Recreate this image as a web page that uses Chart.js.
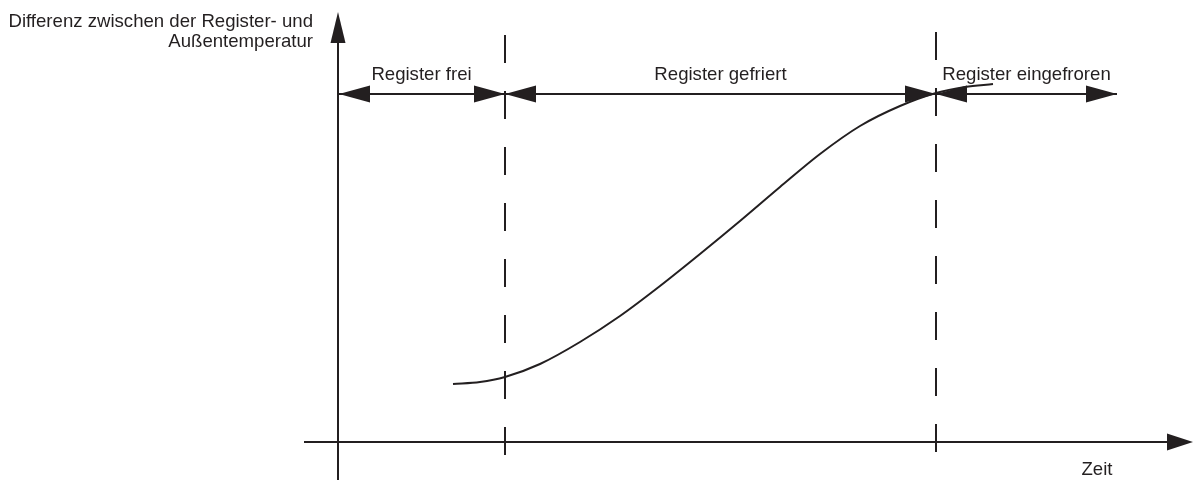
<!DOCTYPE html>
<html>
<head>
<meta charset="utf-8">
<script src="https://cdn.jsdelivr.net/npm/chart.js@4"></script>
<style>
  html, body { margin: 0; padding: 0; background: #ffffff; }
  #wrap { width: 1195px; height: 480px; }
</style>
</head>
<body>
<div id="wrap"><canvas id="c" width="1195" height="480"></canvas></div>
<script>
// ---- data (schematic units: time vs. temperature difference) ----
const curveTime = [11.5, 14.2, 16.7, 20.2, 24.2, 28.2, 32.2, 36.2, 40.2, 44.2, 48.2, 52.2, 56.2, 59.8, 62.7, 65.5];
const curveDiff = [5.8, 6.0, 6.5, 7.8, 10.0, 12.6, 15.6, 18.8, 22.1, 25.5, 28.8, 31.6, 33.6, 34.9, 35.5, 35.8];
const phaseBounds = [16.7, 59.8];
const phaseLabels = ['Register frei', 'Register gefriert', 'Register eingefroren'];
const phaseStart = 0;
const phaseEnd = 77.9;
const phaseLevel = 34.8;
const timeRange = [-3.4, 85.5];
const diffRange = [-3.8, 43.0];
const dashRange1 = [-1.3, 41.4];
const dashRange2 = [-1.0, 41.7];
const yTitleLines = ['Differenz zwischen der Register- und', 'Außentemperatur'];
const xTitle = 'Zeit';

const INK = '#231f20';
const FONT = '18.6px "Liberation Sans", Arial, Helvetica, sans-serif';

const curveData = curveTime.map((t, i) => ({ x: t, y: curveDiff[i] }));
const phaseEdges = [phaseStart, ...phaseBounds, phaseEnd];

const datasets = [];
// curve
datasets.push({ data: curveData, borderColor: INK, borderWidth: 2, cubicInterpolationMode: 'monotone', pointRadius: 0, clip: false });
// axes
datasets.push({ data: [{ x: timeRange[0], y: 0 }, { x: timeRange[1] - 2, y: 0 }], borderColor: INK, borderWidth: 2, pointRadius: 0, clip: false });
datasets.push({ data: [{ x: 0, y: diffRange[0] }, { x: 0, y: diffRange[1] - 2 }], borderColor: INK, borderWidth: 2, pointRadius: 0, clip: false });
// dashed phase boundaries
[dashRange1, dashRange2].forEach((r, i) => {
  datasets.push({ data: [{ x: phaseBounds[i], y: r[0] }, { x: phaseBounds[i], y: r[1] }], borderColor: INK, borderWidth: 2, borderDash: [28, 28], pointRadius: 0, clip: false });
});
// phase arrows
for (let i = 0; i < phaseLabels.length; i++) {
  datasets.push({ data: [{ x: phaseEdges[i], y: phaseLevel }, { x: phaseEdges[i + 1], y: phaseLevel }], borderColor: INK, borderWidth: 2, pointRadius: 0, clip: false });
}

function head(ctx, tx, ty, dx, dy, len, half) {
  const bx = tx - dx * len, by = ty - dy * len;
  const px = -dy, py = dx;
  ctx.beginPath();
  ctx.moveTo(tx, ty);
  ctx.lineTo(bx + px * half, by + py * half);
  ctx.lineTo(bx - px * half, by - py * half);
  ctx.closePath();
  ctx.fill();
}

const decor = {
  id: 'decor',
  afterDatasetsDraw(chart) {
    const ctx = chart.ctx;
    const xs = chart.scales.x, ys = chart.scales.y;
    ctx.save();
    ctx.fillStyle = INK;
    // axis arrowheads
    head(ctx, xs.getPixelForValue(timeRange[1]), ys.getPixelForValue(0), 1, 0, 26, 8.5);
    head(ctx, xs.getPixelForValue(0), ys.getPixelForValue(diffRange[1]), 0, -1, 31, 7.5);
    // phase arrowheads
    const ly = ys.getPixelForValue(phaseLevel);
    for (let i = 0; i < phaseLabels.length; i++) {
      const a = xs.getPixelForValue(phaseEdges[i]);
      const b = xs.getPixelForValue(phaseEdges[i + 1]);
      head(ctx, a + (i === 0 ? 1 : 0), ly, -1, 0, 31, 8.5);
      head(ctx, b, ly, 1, 0, 31, 8.5);
      ctx.font = FONT;
      ctx.textAlign = 'center';
      ctx.textBaseline = 'alphabetic';
      ctx.fillText(phaseLabels[i], (a + b) / 2, ly - 14);
    }
    // axis titles
    ctx.font = FONT;
    ctx.textAlign = 'right';
    const x0 = xs.getPixelForValue(0);
    yTitleLines.forEach((t, i) => ctx.fillText(t, x0 - 25, 27 + i * 20));
    ctx.textAlign = 'center';
    ctx.fillText(xTitle, xs.getPixelForValue(timeRange[1]) - 96, ys.getPixelForValue(0) + 33);
    ctx.restore();
  }
};

new Chart(document.getElementById('c'), {
  type: 'line',
  data: { datasets },
  options: {
    responsive: false,
    animation: false,
    devicePixelRatio: 1,
    parsing: false,
    layout: { padding: 0 },
    plugins: { legend: { display: false }, tooltip: { enabled: false }, title: { display: false } },
    scales: {
      x: { type: 'linear', display: false, min: -33.8, max: 85.7 },
      y: { type: 'linear', display: false, min: -3.8, max: 44.2 }
    }
  },
  plugins: [decor]
});
</script>
</body>
</html>
